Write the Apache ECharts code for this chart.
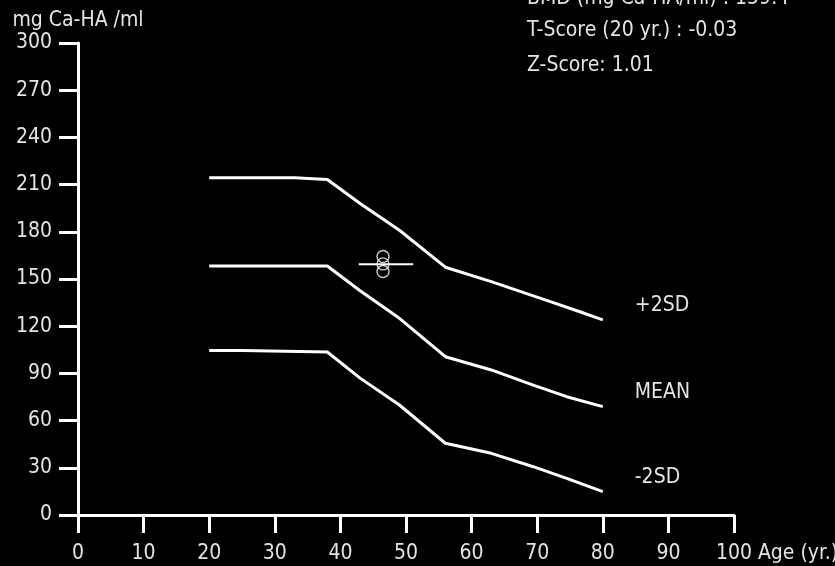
<!DOCTYPE html>
<html>
<head>
<meta charset="utf-8">
<script src="https://cdn.jsdelivr.net/npm/echarts@6/dist/echarts.min.js"></script>
<style>
html,body{margin:0;padding:0;background:#000;}
#chart{width:835px;height:566px;}
</style>
</head>
<body>
<div id="chart"></div>
<script>
// ---- data ----
var xTicks = [0, 10, 20, 30, 40, 50, 60, 70, 80, 90, 100];
var yTicks = [0, 30, 60, 90, 120, 150, 180, 210, 240, 270, 300];

var plus2Ages = [20, 33, 33.1, 38, 43, 49, 56, 63, 67.5, 72, 76.5, 80];
var plus2Vals = [214.4, 214.4, 213.2, 213.2, 198, 181, 157.5, 148.3, 142, 135.6, 129.2, 124];

var meanAges = [20, 38, 43, 49, 56, 63, 69.4, 74.5, 80];
var meanVals = [158.3, 158.3, 142.5, 125, 100.6, 92.2, 82.6, 75.2, 68.9];

var minus2Ages = [20, 25, 25.1, 38, 43, 49, 56, 63, 69.4, 74.5, 80];
var minus2Vals = [104.5, 104.5, 103.6, 103.6, 87, 69.9, 45.6, 39.2, 30.7, 23.3, 14.8];

var patientAge = 46.5;
var patientBmd = 159.4;
var patientCircleVals = [164.3, 159.6, 154.8];
var patientBarAges = [42.8, 51.1];

var seriesNames = ['+2SD', 'MEAN', '-2SD'];
var infoLines = ['BMD (mg Ca-HA/ml) : 159.4', 'T-Score (20 yr.) : -0.03', 'Z-Score: 1.01'];
var yAxisTitle = 'mg Ca-HA /ml';
var xAxisTitle = 'Age (yr.)';

function pairs(xs, ys) { return xs.map(function (x, i) { return [x, ys[i]]; }); }

var FONT = '"DejaVu Sans Condensed", "DejaVu Sans", sans-serif';
var FS = 21;
var TXT = '#e4e4e4';

var chart = echarts.init(document.getElementById('chart'), null, {renderer: 'canvas'});

function curve(name, xs, ys) {
  return {
    name: name, type: 'line', data: pairs(xs, ys), symbol: 'none',
    lineStyle: {color: '#ffffff', width: 3},
    endLabel: {show: true, formatter: name, color: TXT, fontFamily: FONT, fontSize: FS,
               offset: [24, -14], align: 'left', verticalAlign: 'middle'},
    z: 3
  };
}

var option = {
  backgroundColor: '#000000',
  animation: false,
  grid: {left: 78, right: 101, top: 43, bottom: 51, containLabel: false, outerBoundsMode: 'none'},
  xAxis: {
    type: 'value', min: 0, max: 100, interval: 10,
    name: xAxisTitle, nameLocation: 'end', nameGap: 17,
    nameTextStyle: {color: TXT, fontFamily: FONT, fontSize: FS, align: 'left', verticalAlign: 'top', padding: [28, 0, 0, 0]},
    axisLine: {show: true, lineStyle: {color: '#ffffff', width: 3}},
    axisTick: {show: true, length: 18, inside: false, lineStyle: {color: '#ffffff', width: 3}},
    axisLabel: {color: TXT, fontFamily: FONT, fontSize: FS, margin: 28,
                formatter: function (v) { return xTicks.indexOf(v) >= 0 ? String(v) : ''; }},
    splitLine: {show: false}
  },
  yAxis: {
    type: 'value', min: 0, max: 300, interval: 30,
    name: yAxisTitle, nameLocation: 'end', nameGap: 12,
    nameTextStyle: {color: TXT, fontFamily: FONT, fontSize: FS, align: 'center'},
    axisLine: {show: true, lineStyle: {color: '#ffffff', width: 3}},
    axisTick: {show: true, length: 19, inside: false, lineStyle: {color: '#ffffff', width: 3}},
    axisLabel: {color: TXT, fontFamily: FONT, fontSize: FS, margin: 26,
                formatter: function (v) { return yTicks.indexOf(v) >= 0 ? String(v) : ''; }},
    splitLine: {show: false}
  },
  graphic: [
    {type: 'text', left: 527, top: -12, style: {text: infoLines[0], fill: TXT, font: FS + 'px ' + FONT}},
    {type: 'text', left: 527, top: 20, style: {text: infoLines[1], fill: TXT, font: FS + 'px ' + FONT}},
    {type: 'text', left: 527, top: 55, style: {text: infoLines[2], fill: TXT, font: FS + 'px ' + FONT}}
  ],
  series: [
    curve(seriesNames[0], plus2Ages, plus2Vals),
    curve(seriesNames[1], meanAges, meanVals),
    curve(seriesNames[2], minus2Ages, minus2Vals),
    {
      type: 'line', data: patientBarAges.map(function (a) { return [a, patientBmd]; }),
      symbol: 'none', lineStyle: {color: '#ffffff', width: 2}, z: 4
    },
    {
      type: 'scatter', data: patientCircleVals.map(function (v) { return [patientAge, v]; }),
      symbol: 'circle', symbolSize: 12,
      itemStyle: {color: 'rgba(0,0,0,0)', borderColor: '#ffffff', borderWidth: 1.4}, z: 5
    }
  ]
};
chart.setOption(option);
</script>
</body>
</html>
